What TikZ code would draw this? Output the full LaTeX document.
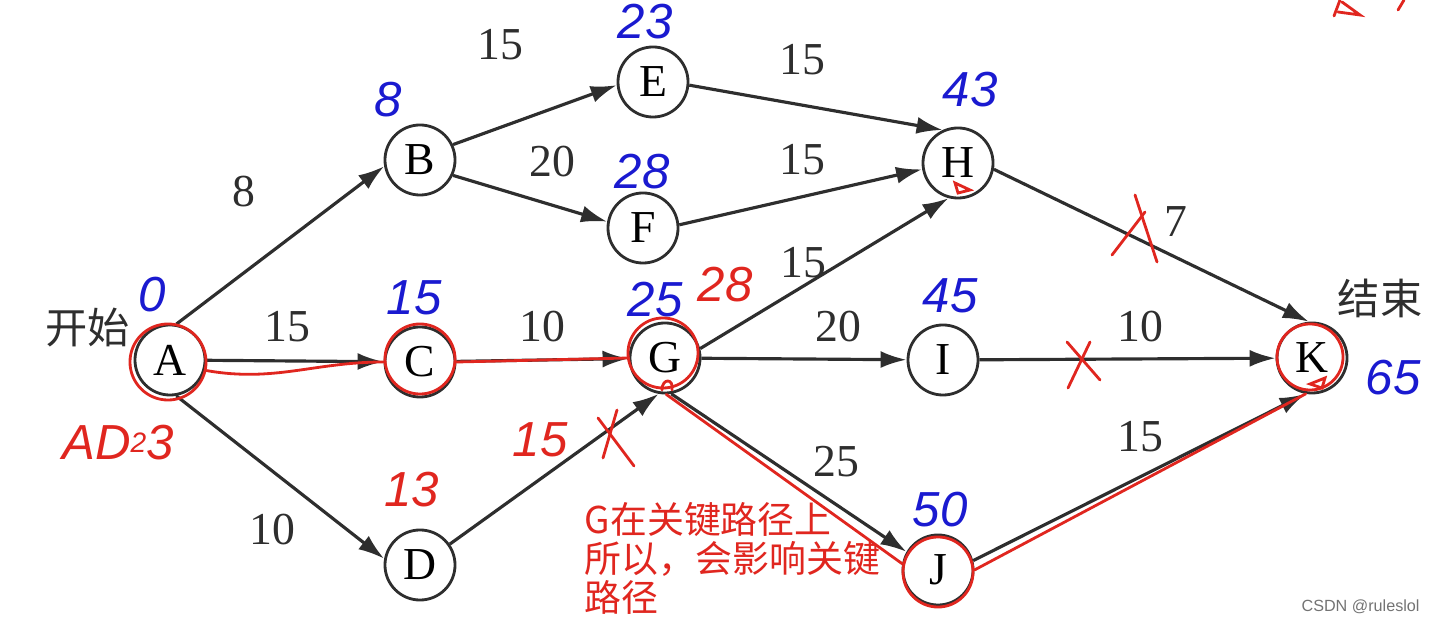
\documentclass[tikz,border=0pt]{standalone}
\usepackage{fontspec}
\setmainfont{Liberation Serif}
\setsansfont{Liberation Sans}
\newfontfamily\cjk{Noto Sans CJK SC}
\usetikzlibrary{arrows.meta, positioning}
\definecolor{InkBlue}{HTML}{1A1AD0}
\definecolor{InkRed}{HTML}{E0261F}
\definecolor{PrintGray}{HTML}{2E2E2E}

\begin{document}
\begin{tikzpicture}[x=0.01cm, y=-0.01cm,
    event/.style={circle, draw=PrintGray, line width=0.8pt, minimum size=0.70cm, inner sep=0pt, font=\fontsize{13}{13}\selectfont},
    act/.style={draw=PrintGray, line width=0.9pt, -{Latex[length=2.6mm, width=1.7mm]}},
    wt/.style={text=PrintGray, font=\fontsize{13}{13}\selectfont},
    early/.style={text=InkBlue, font=\sffamily\itshape\fontsize{14}{14}\selectfont},
    rednum/.style={text=InkRed, font=\sffamily\itshape\fontsize{14}{14}\selectfont},
    redink/.style={draw=InkRed, line width=0.8pt, line cap=round}
]
\useasboundingbox (0,0) rectangle (1446,622);

% Events
\node[event] (A) at (170,360) {A};
\node[event] (B) at (420,160) {B};
\node[event] (C) at (420,362) {C};
\node[event] (D) at (420,565) {D};
\node[event] (E) at (653,82) {E};
\node[event] (F) at (643,228) {F};
\node[event] (G) at (665,358) {G};
\node[event] (H) at (958,163) {H};
\node[event] (I) at (943,360) {I};
\node[event] (J) at (938,570) {J};
\node[event] (K) at (1312,358) {K};

\node[text=PrintGray, font=\cjk\fontsize{12}{12}\selectfont] (start) at (88,328) {开始};
\node[text=PrintGray, font=\cjk\fontsize{12}{12}\selectfont] (finish) at (1380,298) {结束};

% Activities
\draw[act] (A.80) -- (B.190);
\draw[act] (A) -- (C);
\draw[act] (A.-80) -- (D.170);
\draw[act] (B.25) -- (E.185);
\draw[act] (B.-25) -- (F.170);
\draw[act] (C) -- (G);
\draw[act] (D.35) -- (G.-100);
\draw[act] (E.-5) -- (H.115);
\draw[act] (F.5) -- (H.190);
\draw[act] (G.15) -- (H.255);
\draw[act] (G) -- (I);
\draw[act] (G.-80) -- (J.150);
\draw[act] (H.-10) -- (K.95);
\draw[act] (I) -- (K);
\draw[act] (J.15) -- (K.-100);

% Durations
\node[wt] (wAB) at (244,192) {8};
\node[wt] (wAC) at (287,327) {15};
\node[wt] (wAD) at (272,530) {10};
\node[wt] (wBE) at (500,45) {15};
\node[wt] (wBF) at (552,162) {20};
\node[wt] (wCG) at (542,327) {10};
\node[wt] (wEH) at (802,60) {15};
\node[wt] (wFH) at (802,160) {15};
\node[wt] (wGH) at (803,263) {15};
\node[wt] (wGI) at (838,327) {20};
\node[wt] (wGJ) at (836,462) {25};
\node[wt] (wHK) at (1176,222) {7};
\node[wt] (wIK) at (1140,327) {10};
\node[wt] (wJK) at (1140,437) {15};

% Earliest times (blue)
\node[early] (tA) at (152,295) {0};
\node[early] (tB) at (388,100) {8};
\node[early] (tC) at (414,298) {15};
\node[early] (tE) at (645,22) {23};
\node[early] (tF) at (642,172) {28};
\node[early] (tG) at (655,300) {25};
\node[early] (tH) at (970,90) {43};
\node[early] (tI) at (950,296) {45};
\node[early] (tJ) at (940,510) {50};
\node[early] (tK) at (1393,378) {65};

% Red notes
\node[rednum] (ad) at (118,443) {AD\raisebox{2pt}{\fontsize{8}{8}\selectfont 2}3};
\node[rednum] (lG) at (725,285) {28};
\node[rednum] (tD) at (412,490) {13};
\node[rednum] (wDG) at (540,440) {15};
\node[anchor=north west, align=left, inner sep=0pt, text=InkRed, font=\cjk\fontsize{10.5}{11.1}\selectfont] (note) at (584,502) {G在关键路径上\\所以，会影响关键\\路径};

% Critical path
\draw[redink] (A) ++(-2,2) circle (0.38cm);
\draw[redink] (C) ++(0,-3) circle (0.35cm);
\draw[redink] (G) ++(-2,-5) circle (0.35cm);
\draw[redink] (J) ++(0,2) circle (0.35cm);
\draw[redink] (K) ++(-2,-1) circle (0.33cm);
\draw[redink] ([yshift=-3pt]A.east) to[out=-10, in=180] (C.west);
\draw[redink] (C.east) -- (G.west);
\draw[redink] (G.-88) -- (J.170);
\draw[redink] (J.east) -- (K.-100);

% Marks
\draw[redink] (598,418) -- (634,466);
\draw[redink] (603,458) -- (617,410);
\draw[redink] (1135,195) -- (1157,262);
\draw[redink] (1112,255) -- (1145,212);
\draw[redink] (1068,388) -- (1090,342);
\draw[redink] (1067,342) -- (1100,380);
\draw[redink] (955,183) -- (970,190) -- (958,193) -- cycle;
\draw[redink] (662,390) .. controls (662,378) and (674,378) .. (672,390);
\draw[redink] (1310,384) -- (1325,378) -- (1322,388) -- cycle;
\draw[redink] (1334,16) -- (1340,0);
\draw[redink] (1342,2) -- (1360,15) -- (1338,12);
\draw[redink] (1398,10) -- (1404,0);

\node[anchor=east, text=black!55, font=\sffamily\fontsize{4.6}{5}\selectfont] (mark) at (1432,607) {CSDN @ruleslol};
\end{tikzpicture}
\end{document}
